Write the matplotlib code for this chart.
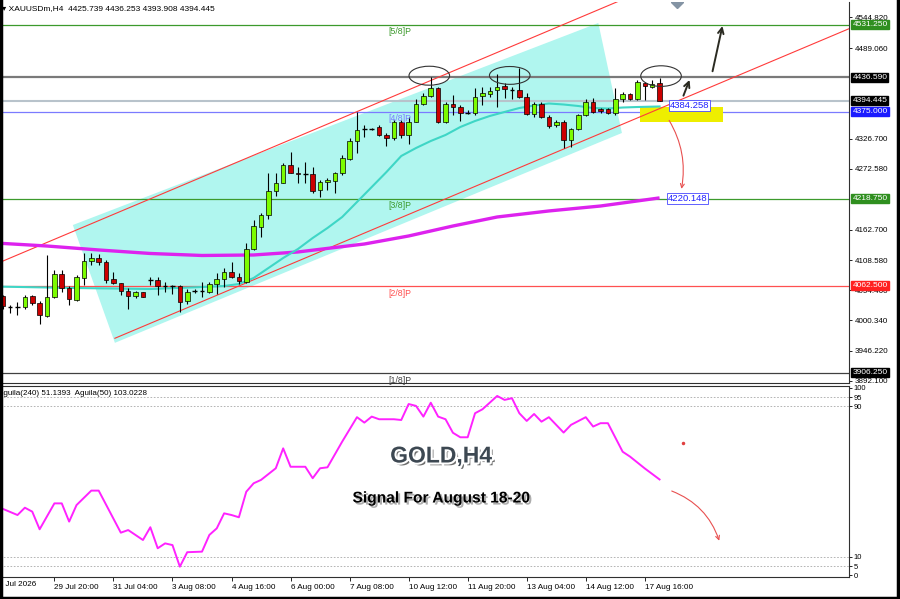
import matplotlib.pyplot as plt
import matplotlib.patheffects as pe
from matplotlib.patches import Polygon, Ellipse, Rectangle, FancyArrowPatch
from matplotlib.lines import Line2D

plt.rcParams['font.family'] = ['Liberation Sans', 'DejaVu Sans']

# XAUUSDm H4 bars, index 0 = first bar visible on the left
opens = [4044.1, 4024.5, 4023.8, 4023.8, 4044.1, 4032.0, 4008.2, 4042.8, 4083.6, 4057.9,
         4036.9, 4075.9, 4106.9, 4111.7, 4105.7, 4074.1, 4066.9, 4053.0, 4044.6, 4050.7,
         4072.8, 4072.8, 4062.6, 4062.0, 4062.0, 4035.6, 4053.0, 4053.0, 4051.8, 4065.6,
         4074.1, 4086.6, 4078.7, 4069.8, 4127.9, 4168.5, 4189.5, 4232.5, 4247.5, 4279.2,
         4265.4, 4263.1, 4263.1, 4234.3, 4249.2, 4251.1, 4264.9, 4289.5, 4322.3, 4343.8,
         4343.8, 4348.0, 4333.1, 4327.2, 4357.0, 4333.1, 4357.0, 4388.2, 4403.1, 4418.0,
         4357.0, 4388.7, 4383.9, 4373.1, 4372.0, 4403.6, 4406.7, 4413.9, 4421.0, 4415.1,
         4413.9, 4400.7, 4370.2, 4388.2, 4364.9, 4351.0, 4357.0, 4324.1, 4343.3, 4369.0,
         4392.8, 4379.7, 4379.2, 4372.0, 4397.2, 4406.1, 4397.2, 4427.0, 4418.7, 4425.739]
highs = [4045.9, 4027.9, 4033.8, 4045.9, 4045.9, 4035.1, 4117.7, 4090.8, 4090.8, 4062.0,
         4081.8, 4120.7, 4120.7, 4118.9, 4108.7, 4087.7, 4067.4, 4057.9, 4053.6, 4051.8,
         4078.7, 4078.7, 4069.8, 4063.0, 4063.0, 4056.6, 4056.1, 4069.8, 4069.8, 4084.9,
         4093.8, 4105.7, 4084.9, 4138.7, 4180.5, 4193.6, 4265.4, 4265.4, 4283.4, 4303.1,
         4275.1, 4285.2, 4276.2, 4252.3, 4255.3, 4267.2, 4297.2, 4327.2, 4374.9, 4351.0,
         4345.1, 4351.0, 4336.1, 4360.0, 4360.0, 4365.9, 4397.2, 4407.9, 4436.6, 4419.8,
         4392.8, 4404.9, 4386.9, 4377.9, 4416.9, 4419.8, 4419.8, 4442.6, 4425.9, 4419.8,
         4452.8, 4407.9, 4392.8, 4392.8, 4369.0, 4360.0, 4360.0, 4345.1, 4370.0, 4397.2,
         4399.0, 4381.5, 4381.5, 4416.9, 4410.8, 4407.9, 4431.8, 4428.7, 4431.8, 4436.253]
lows = [4020.2, 4013.0, 4010.0, 4020.2, 4027.9, 3993.8, 4005.9, 4039.9, 4051.8, 4027.9,
        4035.0, 4063.8, 4099.7, 4099.7, 4068.0, 4066.0, 4045.9, 4020.2, 4039.9, 4042.0,
        4063.8, 4045.9, 4051.8, 4047.7, 4015.9, 4029.7, 4050.0, 4042.8, 4048.9, 4047.7,
        4060.7, 4075.9, 4065.6, 4068.0, 4126.0, 4149.4, 4181.8, 4223.6, 4246.4, 4264.3,
        4246.4, 4246.4, 4228.4, 4222.3, 4234.3, 4229.0, 4261.3, 4288.2, 4300.2, 4328.9,
        4342.0, 4331.3, 4313.3, 4324.1, 4327.2, 4316.9, 4355.9, 4386.9, 4401.8, 4354.1,
        4355.1, 4369.0, 4358.7, 4370.8, 4369.0, 4386.9, 4401.8, 4382.8, 4399.0, 4397.2,
        4399.0, 4369.0, 4365.9, 4363.0, 4345.1, 4348.0, 4309.2, 4311.0, 4342.0, 4367.2,
        4372.0, 4372.0, 4370.8, 4369.0, 4392.8, 4395.9, 4395.9, 4395.9, 4416.9, 4393.908]
closes = [4026.1, 4024.0, 4024.3, 4042.8, 4032.0, 4010.0, 4042.8, 4083.6, 4057.9, 4038.2,
          4077.7, 4106.9, 4111.7, 4105.7, 4072.8, 4066.9, 4053.0, 4044.6, 4050.7, 4042.8,
          4073.3, 4062.0, 4062.0, 4061.5, 4033.8, 4051.8, 4053.5, 4053.3, 4065.6, 4074.1,
          4086.6, 4078.7, 4071.5, 4127.9, 4169.7, 4189.5, 4232.5, 4247.5, 4279.2, 4265.4,
          4263.1, 4263.4, 4233.1, 4249.2, 4252.3, 4265.4, 4291.3, 4321.8, 4342.0, 4344.3,
          4344.1, 4333.1, 4327.2, 4357.0, 4333.1, 4357.0, 4388.2, 4403.1, 4416.9, 4357.0,
          4388.7, 4383.9, 4372.0, 4372.6, 4401.8, 4407.9, 4412.6, 4419.8, 4415.1, 4414.6,
          4400.7, 4370.2, 4388.2, 4364.9, 4349.2, 4357.0, 4324.1, 4343.3, 4369.0, 4392.8,
          4374.9, 4376.2, 4372.0, 4397.2, 4406.1, 4397.2, 4427.7, 4421.0, 4424.6, 4394.445]

# moving averages (read at bar indices)
ma_fast_x = [0, 10, 20, 27, 30, 32, 34, 36, 38, 40, 42, 44, 46, 48, 50, 52, 54, 56, 58,
             60, 62, 64, 66, 68, 70, 72, 74, 76, 78, 80, 82, 84, 86, 89]
ma_fast = [4060.8, 4058.4, 4056.6, 4060.2, 4062.0, 4065.6, 4076.4, 4094.3, 4112.3, 4128.4,
           4148.2, 4166.1, 4185.9, 4212.8, 4239.7, 4266.7, 4295.4, 4309.7, 4322.3, 4333.1,
           4347.4, 4358.2, 4367.2, 4374.4, 4381.5, 4386.0, 4389.6, 4387.8, 4385.1, 4381.5,
           4380.6, 4382.4, 4383.3, 4384.258]
ma_slow_x = [-1, 6, 13, 20, 27, 34, 40, 45, 49, 55, 61, 67, 74, 81, 89]
ma_slow = [4139.2, 4133.8, 4126.7, 4120.4, 4116.8, 4117.7, 4123.1, 4131.1, 4137.4, 4151.8,
           4169.7, 4185.9, 4196.7, 4205.6, 4220.148]

# Aguila(240) oscillator
ind_x = [0, 2, 3, 4, 5, 7, 8, 9, 10, 12, 13, 16, 17, 19, 20, 21, 22, 23, 24, 25, 27, 28,
         29, 30, 31, 32, 33, 34, 35, 37, 38, 39, 41, 42, 43, 44, 46, 48, 49, 50, 51, 53,
         54, 55, 56, 57, 58, 59, 60, 61, 62, 63, 64, 65, 67, 68, 69, 70, 71, 72, 73, 74,
         76, 77, 79, 80, 81, 82, 84, 85, 87, 89]
ind_vals = [35.5, 32.2, 36.1, 34.0, 24.6, 38.4, 38.4, 28.7, 37.5, 45.2, 45.2, 22.8, 24.2,
            18.9, 25.7, 14.5, 17.1, 16.2, 4.7, 12.4, 12.7, 21.6, 25.1, 33.1, 32.2, 31.0,
            44.6, 49.1, 50.9, 57.1, 67.7, 57.9, 57.9, 51.8, 57.1, 57.6, 71.3, 84.3, 81.4,
            84.6, 83.2, 83.2, 82.8, 91.3, 90.3, 84.6, 92.0, 84.6, 83.2, 76.0, 73.6, 73.6,
            86.4, 88.5, 95.6, 93.5, 94.4, 86.4, 82.3, 86.0, 81.9, 84.3, 76.1, 80.2, 84.3,
            79.3, 81.1, 81.1, 65.9, 63.3, 57.0, 51.1393]

date_ticks = [7, 15, 23, 31, 39, 47, 55, 63, 71, 79, 87]
date_labels = ['29 Jul 20:00', '31 Jul 04:00', '3 Aug 08:00', '4 Aug 16:00', '6 Aug 00:00',
               '7 Aug 08:00', '10 Aug 12:00', '11 Aug 20:00', '13 Aug 04:00',
               '14 Aug 12:00', '17 Aug 16:00']
price_ticks = [3892.10, 3946.22, 4000.34, 4054.46, 4108.58, 4162.70, 4272.58, 4326.70,
               4489.06, 4544.82]

# murrey levels
levels = [4531.25, 4375.00, 4218.75, 4062.50, 3906.25]
level_names = ['[5/8]P', '[4/8]P', '[3/8]P', '[2/8]P', '[1/8]P']
level_colors = ['#3c9a2c', '#7b7bff', '#3c9a2c', '#ff5050', '#404040']
level_bg = ['#2f8f1f', '#1a1aff', '#2f8f1f', '#ff2020', '#000000']
resist = 4436.59
bid = 4394.445

W, H = 900, 599


def box(x0, y0, x1, y1):
    return [x0 / W, 1 - y1 / H, (x1 - x0) / W, (y1 - y0) / H]


fig = plt.figure(figsize=(9, 5.99), dpi=100)
ax = fig.add_axes(box(0, 2, 849, 383))
ax2 = fig.add_axes(box(0, 386, 849, 577))
xlim = (-0.37, 114.67)

# ---------------- price panel ----------------
ax.add_patch(Polygon([(9.5, 4171.5), (80.7, 4534.1), (83.9, 4336.7), (15.2, 3960.0)],
                     closed=True, fc='#b0f6ef', ec='none', zorder=0))

for v, c in zip(levels, level_colors):
    ax.axhline(v, color=c, lw=0.9, zorder=1)
ax.axhline(resist, color='#7a7a7a', lw=1.6, zorder=1)
ax.axhline(bid, color='#b8c3cb', lw=1.5, zorder=1)

ax.add_patch(Rectangle((86.35, 4357.0), 11.3, 26.9, fc='#eeee00', ec='none', zorder=1))

# trend channel
ax.plot([-0.37, 92], [4104.6, 4621.0], color='#ff3a3a', lw=0.8, zorder=2)
ax.plot([15.2, 114.7], [3968.2, 4524.0], color='#ff3a3a', lw=0.8, zorder=2)

ax.plot(ma_slow_x, ma_slow, color='#dd22ee', lw=2.4, zorder=3, solid_capstyle='butt')
ax.plot(ma_fast_x, ma_fast, color='#3fd6c6', lw=1.5, zorder=3)

# candles
for i, (o, h, l, c) in enumerate(zip(opens, highs, lows, closes)):
    ax.vlines(i, l, h, color='black', lw=0.8, zorder=4)
    if abs(c - o) < 1:
        ax.hlines(c, i - 0.32, i + 0.32, color='black', lw=1.0, zorder=5)
    else:
        fc = '#7cfc00' if c > o else '#cc0000'
        ax.bar(i, abs(c - o), bottom=min(o, c), width=0.62, color=fc,
               edgecolor='black', lw=0.5, zorder=5)

for v, name, c in zip(levels, level_names, level_colors):
    ax.text(53.8, v - 5, name, color=c, fontsize=6.3, ha='center', va='top', zorder=6)

for cx, cy, w, h in [(57.8, 4439.5, 5.5, 34), (68.7, 4440.0, 5.5, 32), (89.2, 4438.8, 5.5, 37)]:
    ax.add_patch(Ellipse((cx, cy), w, h, fc='none', ec='#333333', lw=0.8, zorder=6))

ax.text(90.4, 4386.4, '4384.258', color='#2020ff', fontsize=6.8, va='center', ha='left',
        zorder=7, bbox=dict(boxstyle='square,pad=0.1', fc='white', ec='#4848ff', lw=0.6))
ax.text(90.1, 4219.1, '4220.148', color='#2020ff', fontsize=6.8, va='center', ha='left',
        zorder=7, bbox=dict(boxstyle='square,pad=0.1', fc='white', ec='#4848ff', lw=0.6))

ax.add_patch(FancyArrowPatch((92.1, 4399.0), (93.2, 4436.6), arrowstyle='->',
                             mutation_scale=10, lw=1.4, color='#2b2b22', zorder=7))
ax.add_patch(FancyArrowPatch((96.1, 4442.6), (97.6, 4533.6), arrowstyle='->',
                             mutation_scale=10, lw=1.4, color='#2b2b22', zorder=7))
ax.add_patch(FancyArrowPatch((90.1, 4363.6), (91.9, 4231.5), arrowstyle='->',
                             mutation_scale=7, lw=0.8, color='#e85050', zorder=7,
                             connectionstyle='arc3,rad=-0.2'))
ax.plot([91.4], [4571.8], marker='D', ms=6, color='#8494a4', zorder=7)

ax.set_xlim(*xlim)
ax.set_ylim(3887.9, 4571.8)
ax.yaxis.tick_right()
ax.set_yticks(price_ticks)
ax.set_yticklabels([f'{v:.3f}' for v in price_ticks])
ax.tick_params(axis='y', length=2.5, width=0.6, labelsize=5.8, pad=1.5)
ax.tick_params(axis='x', bottom=False, labelbottom=False)
for s in ['left', 'top']:
    ax.spines[s].set_visible(False)
for s in ['right', 'bottom']:
    ax.spines[s].set_color('#303030')
    ax.spines[s].set_linewidth(0.8)

tr = ax.get_yaxis_transform()
for v, bg in list(zip(levels, level_bg)) + [(resist, '#000000'), (bid, '#000000')]:
    ax.text(1.004, v, f'{v:.3f}', transform=tr, fontsize=6.0, color='white', va='center',
            ha='left', clip_on=False, zorder=10,
            bbox=dict(boxstyle='square,pad=0.12', fc=bg, ec=bg))

fig.text(2 / W, 1 - 9 / H, '\u25be XAUUSDm,H4  4425.739 4436.253 4393.908 4394.445',
         fontsize=6.0, va='center', ha='left')

# ---------------- indicator panel ----------------
for v in [5, 10, 90, 95]:
    ax2.axhline(v, color='#a8a8a8', lw=0.6, ls=(0, (2, 2)))
ax2.plot(ind_x, ind_vals, color='#ff22ff', lw=1.4)
ax2.plot([92.2], [70.6], marker='o', ms=1.5, color='#e04040')
ax2.add_patch(FancyArrowPatch((90.3, 45.5), (97.2, 17.1), arrowstyle='->',
                              mutation_scale=7, lw=0.8, color='#e85050',
                              connectionstyle='arc3,rad=-0.25'))
ax2.text(-0.002, 0.96, 'Aguila(240) 51.1393  Aguila(50) 103.0228', transform=ax2.transAxes,
         fontsize=5.8, va='center', ha='left')

ax2.set_xlim(*xlim)
ax2.set_ylim(-0.8, 100.9)
ax2.yaxis.tick_right()
ax2.set_yticks([0, 5, 10, 90, 95, 100])
ax2.set_yticklabels(['0', '5', '10', '90', '95', '100'])
ax2.tick_params(axis='y', length=2, width=0.6, labelsize=5.5, pad=1.5)
ax2.set_xticks(date_ticks)
ax2.set_xticklabels(date_labels, ha='left')
ax2.tick_params(axis='x', length=3, width=0.6, labelsize=5.9, pad=2)
ax2.spines['left'].set_visible(False)
for s in ['right', 'bottom', 'top']:
    ax2.spines[s].set_color('#303030')
    ax2.spines[s].set_linewidth(0.8)
fig.text(-6 / W, 1 - 585 / H, '28 Jul 2026', fontsize=5.9, va='center', ha='left')

fig.text(441 / W, 1 - 456 / H, 'GOLD,H4', fontsize=16.5, fontweight='bold', color='#3d4852',
         ha='center', va='center',
         path_effects=[pe.SimplePatchShadow(offset=(2, -2), shadow_rgbFace='#333333', alpha=0.7),
                       pe.Stroke(linewidth=3, foreground='white'), pe.Normal()])
fig.text(441 / W, 1 - 498 / H, 'Signal For August 18-20', fontsize=11.2, fontweight='bold',
         color='black', ha='center', va='center',
         path_effects=[pe.SimplePatchShadow(offset=(1.5, -1.5), shadow_rgbFace='#999999',
                                            alpha=0.8), pe.Normal()])

# outer frame
for xs, ys in [([1 / W, 1 / W], [0, 1]), ([898 / W, 898 / W], [0, 1]), ([0, 1], [1.5 / H, 1.5 / H])]:
    fig.add_artist(Line2D(xs, ys, transform=fig.transFigure, color='black', lw=2.5))

fig.savefig('out.png', dpi=100)
